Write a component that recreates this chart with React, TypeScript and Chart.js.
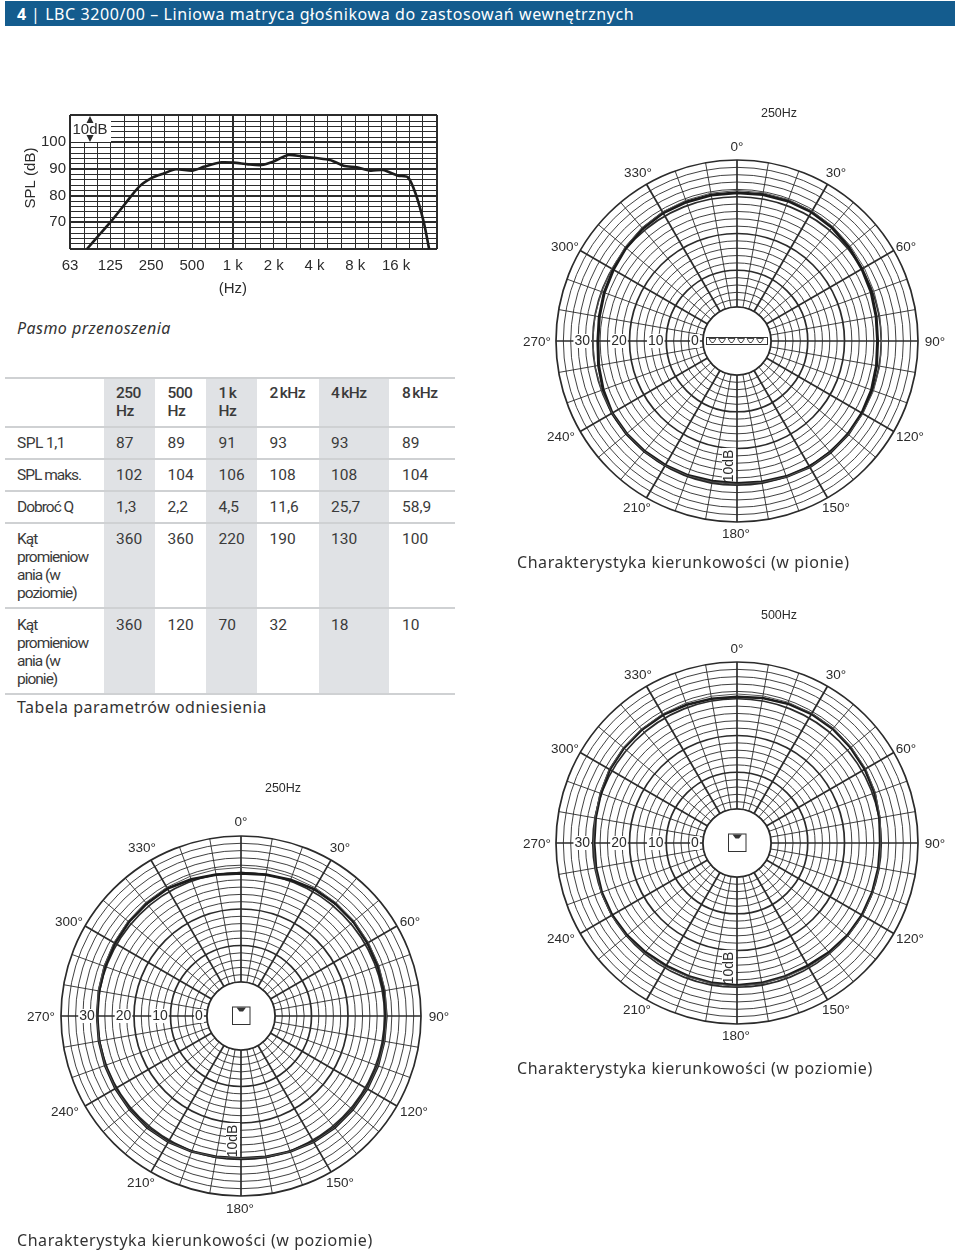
import React, { useEffect, useRef } from "react";
import { Chart, registerables } from "chart.js";

Chart.register(...registerables);

// ---- frequency response ----
const responseFreq = [84, 106, 126, 158, 204, 255, 312, 380, 506, 618, 823, 1010, 1296, 1624, 1977, 2560, 3207, 4145, 5210, 6535, 8197, 10300, 12800, 16500, 19500, 22200, 25500, 28000];
const responseDb = [60, 65.9, 70.25, 76.5, 83.4, 86.75, 88.4, 89.9, 89.4, 90.9, 92.5, 92.4, 91.75, 91.5, 92.75, 95.25, 94.75, 94.1, 93.4, 91.25, 90.6, 89.4, 89.6, 87.5, 86.9, 80.9, 70.25, 60];
const freqGrid = [63, 80, 100, 125, 160, 200, 250, 315, 400, 500, 630, 800, 1000, 1250, 1600, 2000, 2500, 3150, 4000, 5000, 6300, 8000, 10000, 12500, 16000, 20000, 25000, 32000];
const freqTickLabels: Record<number, string> = { 63: "63", 125: "125", 250: "250", 500: "500", 1000: "1 k", 2000: "2 k", 4000: "4 k", 8000: "8 k", 16000: "16 k" };
const splTicks = [60, 62, 64, 66, 68, 70, 72, 74, 76, 78, 80, 82, 84, 86, 88, 90, 92, 94, 96, 98, 100, 102, 104, 106, 108, 110.25];
const splLabels = [70, 80, 90, 100];

// ---- polar patterns (value every 10 degrees, clockwise from 0) ----
const vertical250Main = [31.1, 31.2, 31.3, 31.3, 31, 30.5, 30, 29.6, 29.2, 29, 29.3, 29.7, 30, 30.2, 30.3, 30.3, 30, 29.7, 29.5, 29.5, 29.7, 29.8, 29.9, 30, 30, 29.5, 29, 28.6, 28.8, 29.2, 29.6, 30.2, 30.7, 31, 31, 31.1];
const vertical250Second = [31.7, 31.7, 31.7, 31.6, 31.4, 31, 30.7, 30.4, 30.2, 30.1, 30.2, 30.3, 30.3, 30.3, 30.3, 30.4, 30.1, 29.8, 29.7, 29.7, 29.8, 29.9, 30, 30, 30, 30, 30, 30, 30, 30, 30.1, 30.5, 31, 31.3, 31.5, 31.6];
const horizontal250Main = [29.8, 30, 30.4, 30.8, 30.9, 30.9, 30.7, 30.6, 30.5, 30.5, 30.5, 30.6, 30.6, 30.6, 30.6, 30.5, 30.2, 29.9, 29.7, 29.9, 30.2, 30.5, 30.6, 30.5, 30.4, 30.3, 30.2, 30.1, 30.2, 30.4, 30.6, 30.8, 30.9, 31, 30.5, 30];
const horizontal250Second = [31.4, 31.4, 31.3, 31.3, 31.2, 31.1, 31, 30.9, 30.8, 30.6, 30.6, 30.6, 30.6, 30.6, 30.6, 30.5, 30.2, 29.9, 29.7, 29.9, 30.2, 30.5, 30.6, 30.5, 30.4, 30.3, 30.2, 30.2, 30.4, 30.6, 30.9, 31.1, 31.3, 31.4, 31.4, 31.4];
const horizontal500Main = [30.5, 30.8, 31.1, 31.3, 31.3, 31.1, 30.9, 30.6, 30.1, 29.7, 29.8, 29.9, 30, 29.9, 29.6, 29.3, 29.3, 29.4, 29.5, 29.4, 29.3, 29.3, 29.5, 29.8, 30, 29.9, 29.7, 29.6, 29.8, 30.2, 30.7, 30.9, 31, 31, 30.8, 30.6];
const horizontal500Second = [31.3, 31.4, 31.5, 31.5, 31.5, 31.3, 31.2, 30.8, 30.3, 29.9, 30, 30.1, 30.2, 30.1, 29.9, 29.7, 29.5, 29.6, 29.7, 29.6, 29.5, 29.6, 29.8, 30, 30.2, 30.1, 29.9, 29.8, 30, 30.4, 30.9, 31.1, 31.2, 31.3, 31.3, 31.3];
const polarAngles = ["0°", "10°", "20°", "30°", "40°", "50°", "60°", "70°", "80°", "90°", "100°", "110°", "120°", "130°", "140°", "150°", "160°", "170°", "180°", "190°", "200°", "210°", "220°", "230°", "240°", "250°", "260°", "270°", "280°", "290°", "300°", "310°", "320°", "330°", "340°", "350°"];
const polarRingTicks = [0, 2, 4, 6, 8, 10, 12, 14, 16, 18, 20, 22, 24, 26, 28, 30, 32, 34, 36, 38, 40];
const polarRingLabels = [0, 10, 20, 30];

// ---- table ----
const tableHead = ["250\nHz", "500\nHz", "1 k\nHz", "2 kHz", "4 kHz", "8 kHz"];
const tableRowNames = ["SPL 1,1", "SPL maks.", "Dobroć Q", "Kąt\npromieniow\nania (w\npoziomie)", "Kąt\npromieniow\nania (w\npionie)"];
const tableRows = [
  ["87", "89", "91", "93", "93", "89"],
  ["102", "104", "106", "108", "108", "104"],
  ["1,3", "2,2", "4,5", "11,6", "25,7", "58,9"],
  ["360", "360", "220", "190", "130", "100"],
  ["360", "120", "70", "32", "18", "10"],
];

const INK = "#2b2b2b";
const ARIAL = '"Liberation Sans", Arial, sans-serif';
const BODY = '"Noto Sans", sans-serif';
// placement of the 30-degree labels relative to the polar centre
const LABEL_OFFSETS = [[0, -194], [99, -168], [169, -94], [198, 1], [173, 96], [99, 167], [-1, 193], [-100, 167], [-176, 96], [-200, 1], [-172, -94], [-99, -168]];

function FrequencyChart() {
  const ref = useRef<HTMLCanvasElement>(null);
  useEffect(() => {
    const boxPlugin = {
      id: "dbBox",
      afterDatasetsDraw(chart: any) {
        const { ctx, chartArea: a } = chart;
        ctx.save();
        ctx.fillStyle = "#fff";
        ctx.fillRect(a.left + 1, a.top + 1, 40, 26);
        ctx.fillStyle = INK;
        ctx.strokeStyle = INK;
        const cx = a.left + 20;
        ctx.beginPath();
        ctx.moveTo(cx, a.top + 1); ctx.lineTo(cx - 3.5, a.top + 8); ctx.lineTo(cx + 3.5, a.top + 8); ctx.closePath();
        ctx.moveTo(cx, a.top + 27); ctx.lineTo(cx - 3.5, a.top + 20); ctx.lineTo(cx + 3.5, a.top + 20); ctx.closePath();
        ctx.fill();
        ctx.font = `15px ${ARIAL}`;
        ctx.textAlign = "center";
        ctx.textBaseline = "middle";
        ctx.fillText("10dB", cx, a.top + 14.5);
        // axis titles: "(Hz)" sits under the 1 k tick, "SPL (dB)" is centred on the top of the grid
        ctx.font = `15px ${ARIAL}`;
        ctx.fillText("(Hz)", chart.scales.x.getPixelForValue(1000), 189);
        ctx.save();
        ctx.translate(31, 78);
        ctx.rotate(-Math.PI / 2);
        ctx.fillText("SPL (dB)", 0, 0);
        ctx.restore();
        ctx.restore();
      },
    };
    const chart = new Chart(ref.current!, {
      type: "line",
      data: {
        datasets: [{
          data: responseFreq.map((f, i) => ({ x: f, y: responseDb[i] })),
          borderColor: "#1c1c1c",
          borderWidth: 2.6,
          pointRadius: 0,
          tension: 0.25,
          fill: false,
          clip: false,
        }],
      },
      options: {
        animation: false,
        responsive: false,
        layout: { padding: { top: 15, right: 23, left: 0, bottom: 0 } },
        plugins: { legend: { display: false }, tooltip: { enabled: false } },
        scales: {
          x: {
            type: "logarithmic",
            min: 63,
            max: 32000,
            afterBuildTicks: (s: any) => { s.ticks = freqGrid.map((value) => ({ value })); },
            afterFit: (s: any) => { s.height = 61; },
            grid: {
              color: INK,
              drawTicks: false,
              lineWidth: (c: any) => (c.tick && (c.tick.value === 1000 || c.tick.value === 63 || c.tick.value === 32000) ? 2 : 1),
            },
            border: { display: false },
            ticks: {
              autoSkip: false,
              maxRotation: 0,
              minRotation: 0,
              padding: 8,
              color: INK,
              font: { family: ARIAL, size: 15 },
              callback: (v: any) => freqTickLabels[Number(v)] ?? "",
            },
          },
          y: {
            type: "linear",
            min: 60,
            max: 110.25,
            afterBuildTicks: (s: any) => { s.ticks = splTicks.map((value) => ({ value })); },
            afterFit: (s: any) => { s.width = 70; },
            grid: {
              color: INK,
              drawTicks: false,
              lineWidth: (c: any) => (c.tick && (c.tick.value % 10 === 0 || c.tick.value === 110.25) ? 2 : 1),
            },
            border: { display: false },
            ticks: {
              autoSkip: false,
              padding: 4,
              color: INK,
              font: { family: ARIAL, size: 15 },
              callback: (v: any) => (splLabels.includes(Number(v)) ? String(v) : ""),
            },
          },
        },
      },
      plugins: [boxPlugin],
    } as any);
    return () => chart.destroy();
  }, []);
  return <canvas ref={ref} width={460} height={210} style={{ position: "absolute", left: 0, top: 100, display: "block" }} />;
}

type PolarProps = { cx: number; cy: number; R: number; inner: number; title: string; icon: "array" | "box"; main: number[]; second: number[]; mainWidth: number };

function PolarChart({ cx, cy, R, inner, title, icon, main, second, mainWidth }: PolarProps) {
  const ref = useRef<HTMLCanvasElement>(null);
  useEffect(() => {
    const W = 460, H = 480;
    const rMin = (-inner / (R - inner)) * 40;
    const decor = {
      id: "polarDecor",
      beforeDatasetsDraw(chart: any) {
        const s = chart.scales.r;
        const { ctx } = chart;
        ctx.save();
        ctx.fillStyle = "#fff";
        ctx.strokeStyle = INK;
        ctx.lineWidth = 1.6;
        ctx.beginPath();
        ctx.arc(s.xCenter, s.yCenter, s.getDistanceFromCenterForValue(0), 0, Math.PI * 2);
        ctx.fill();
        ctx.stroke();
        // rotated 10dB label along the 180 degree ray, under the response curves
        ctx.translate(s.xCenter - 8, s.yCenter + 125);
        ctx.rotate(-Math.PI / 2);
        ctx.fillStyle = "#fff";
        ctx.fillRect(-18, -7, 36, 14);
        ctx.fillStyle = INK;
        ctx.font = `14px ${ARIAL}`;
        ctx.textAlign = "center";
        ctx.textBaseline = "middle";
        ctx.fillText("10dB", 0, 0.5);
        ctx.restore();
      },
      afterDatasetsDraw(chart: any) {
        const s = chart.scales.r;
        const { ctx } = chart;
        const x0 = s.xCenter, y0 = s.yCenter;
        ctx.save();
        ctx.textAlign = "center";
        ctx.textBaseline = "middle";
        ctx.font = `13.5px ${ARIAL}`;
        // angle labels every 30 degrees
        polarAngles.forEach((lab, i) => {
          if (i % 3 !== 0) return;
          const [dx, dy] = LABEL_OFFSETS[i / 3];
          ctx.fillStyle = INK;
          ctx.fillText(lab, x0 + dx, y0 + dy);
        });
        // ring labels along the 270 degree ray
        ctx.font = `14px ${ARIAL}`;
        polarRingLabels.forEach((v) => {
          const p = s.getPointPosition(27, s.getDistanceFromCenterForValue(v) + (v === 0 ? 8 : 10.5));
          const tw = ctx.measureText(String(v)).width;
          ctx.fillStyle = "#fff";
          ctx.fillRect(p.x - tw / 2 - 1, p.y - 7, tw + 2, 14);
          ctx.fillStyle = INK;
          ctx.fillText(String(v), p.x, p.y + 0.5);
        });
        // title
        ctx.fillStyle = INK;
        ctx.font = `12.5px ${ARIAL}`;
        ctx.fillText(title, x0 + 42, y0 - 227);
        // transducer glyph
        ctx.strokeStyle = "#333";
        ctx.lineWidth = 1;
        ctx.fillStyle = "#333";
        if (icon === "array") {
          ctx.strokeRect(x0 - 30.5, y0 - 3.5, 61, 7);
          ctx.lineWidth = 0.9;
          for (let k = 0; k < 6; k++) {
            const bx = x0 - 28 + k * 9.5;
            ctx.beginPath();
            ctx.moveTo(bx, y0 - 2.5);
            ctx.lineTo(bx + 7, y0 - 2.5);
            ctx.lineTo(bx + 4.5, y0 + 1.5);
            ctx.lineTo(bx + 2.5, y0 + 1.5);
            ctx.closePath();
            ctx.stroke();
          }
        } else {
          ctx.strokeRect(x0 - 8.5, y0 - 9, 17.5, 17.5);
          ctx.beginPath();
          ctx.moveTo(x0 - 4.5, y0 - 8.5);
          ctx.lineTo(x0 + 5, y0 - 8.5);
          ctx.lineTo(x0 + 2, y0 - 4.5);
          ctx.lineTo(x0 - 1.5, y0 - 4.5);
          ctx.closePath();
          ctx.fill();
        }
        ctx.restore();
      },
    };
    const chart = new Chart(ref.current!, {
      type: "radar",
      data: {
        labels: polarAngles,
        datasets: [
          { data: second, borderColor: "#555", borderWidth: 1, pointRadius: 0, fill: false, tension: 0 },
          { data: main, borderColor: "#1c1c1c", borderWidth: mainWidth, pointRadius: 0, fill: false, tension: 0 },
        ],
      },
      options: {
        animation: false,
        responsive: false,
        layout: { padding: { left: W / 2 - R, right: W / 2 - R, top: H / 2 - R, bottom: H / 2 - R } },
        plugins: { legend: { display: false }, tooltip: { enabled: false } },
        scales: {
          r: {
            min: rMin,
            max: 40,
            afterBuildTicks: (sc: any) => { sc.ticks = polarRingTicks.map((value) => ({ value })); },
            ticks: { display: false },
            pointLabels: { display: false },
            grid: {
              circular: true,
              color: INK,
              lineWidth: (c: any) => (c.tick && c.tick.value % 10 === 0 ? 1.7 : 0.9),
            },
            angleLines: {
              display: true,
              color: INK,
              lineWidth: (c: any) => (c.index % 3 === 0 ? 1.7 : 0.9),
            },
          },
        },
      },
      plugins: [decor],
    } as any);
    return () => chart.destroy();
  }, []);
  return <canvas ref={ref} width={460} height={480} style={{ position: "absolute", left: cx - 230, top: cy - 240, display: "block" }} />;
}

const txt = (s: string, left: number, centerY: number, extra: React.CSSProperties = {}) => (
  <div style={{ position: "absolute", left, top: centerY - 12, height: 24, lineHeight: "24px", fontFamily: BODY, fontSize: 16, color: "#333", whiteSpace: "nowrap", ...extra }}>{s}</div>
);

function MetricsTable() {
  const colX = [116, 167.5, 218.5, 269.5, 331, 402];
  const bands = [[104, 51], [206, 51], [319, 70]];
  const rules = [377.5, 426.5, 458.5, 490.5, 522.5, 608, 693.5];
  const rowTops = [433.5, 465.5, 497.5, 529.5, 615.5];
  const cell: React.CSSProperties = { position: "absolute", fontFamily: "Roboto, sans-serif", fontSize: 15.5, lineHeight: "18px", color: "#3a3a3a", whiteSpace: "pre" };
  return (
    <>
      {bands.map(([x, w], i) => (
        <div key={i} style={{ position: "absolute", left: x, width: w, top: 377, height: 317, background: "#e0e2e5" }} />
      ))}
      {rules.map((y, i) => (
        <div key={i} style={{ position: "absolute", left: 5, width: 450, top: y - 1, height: 2, background: "#cfd1d3" }} />
      ))}
      {tableHead.map((h, i) => (
        <div key={i} style={{ ...cell, left: colX[i], top: 384, fontWeight: 500, letterSpacing: -0.6, wordSpacing: -1.2 }}>{h}</div>
      ))}
      {tableRowNames.map((n, r) => (
        <div key={r} style={{ ...cell, left: 17, top: rowTops[r], letterSpacing: r === 0 ? -0.55 : -1 }}>{n}</div>
      ))}
      {tableRows.map((row, r) =>
        row.map((v, c) => (
          <div key={`${r}-${c}`} style={{ ...cell, left: colX[c], top: rowTops[r] }}>{v}</div>
        ))
      )}
    </>
  );
}

export default function App() {
  return (
    <div style={{ position: "absolute", left: 0, top: 0, width: 960, height: 1252, overflow: "hidden", background: "#fff" }}>
      <div style={{ position: "absolute", left: 5, top: 1, width: 950, height: 25, background: "#145c8e" }} />
      {txt("4", 17, 14, { color: "#fff", fontWeight: 700 })}
      {txt("| LBC 3200/00 – Liniowa matryca głośnikowa do zastosowań wewnętrznych", 31, 14, { color: "#fff", letterSpacing: 0.58 })}

      <FrequencyChart />
      {txt("Pasmo przenoszenia", 17, 328, { fontStyle: "italic", letterSpacing: 0.45 })}

      <MetricsTable />
      {txt("Tabela parametrów odniesienia", 17, 707, { letterSpacing: 0.5 })}

      <PolarChart cx={737} cy={341} R={181} inner={34} title="250Hz" icon="array" main={vertical250Main} second={vertical250Second} mainWidth={3} />
      {txt("Charakterystyka kierunkowości (w pionie)", 517, 562, { letterSpacing: 0.55 })}

      <PolarChart cx={737} cy={843} R={181} inner={34} title="500Hz" icon="box" main={horizontal500Main} second={horizontal500Second} mainWidth={2.6} />
      {txt("Charakterystyka kierunkowości (w poziomie)", 517, 1068, { letterSpacing: 0.55 })}

      <PolarChart cx={241} cy={1016} R={180} inner={34} title="250Hz" icon="box" main={horizontal250Main} second={horizontal250Second} mainWidth={2.8} />
      {txt("Charakterystyka kierunkowości (w poziomie)", 17, 1240, { letterSpacing: 0.55 })}
    </div>
  );
}
